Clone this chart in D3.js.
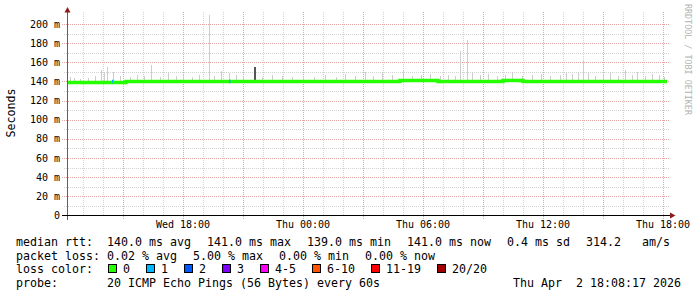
<!DOCTYPE html>
<html>
<head>
<meta charset="utf-8">
<script src="https://cdn.jsdelivr.net/npm/d3@7"></script>
<style>
  body { margin: 0; background: #fff; }
  text { font-family: "DejaVu Sans Mono", monospace; }
</style>
</head>
<body>
<div id="chart"></div>
<script>
// SMOKEPING LATENCY GRAPH (30 HOURS)

// median rtt steps [time, ms]
const medianSteps = [
  ["2026-04-01T12:12", 139],
  ["2026-04-01T15:09", 140],
  ["2026-04-02T04:51", 141],
  ["2026-04-02T06:45", 140],
  ["2026-04-02T10:00", 141],
  ["2026-04-02T11:00", 140],
  ["2026-04-02T18:12", 140]
];

// samples where some pings were lost [time, lost]
const lossSamples = [
  ["2026-04-01T14:27", 1],
  ["2026-04-01T20:18", 1]
];

// smoke: highest ping of a sample [time, ms]
const smokeTops = [
  ["2026-04-01T12:21", 145], ["2026-04-01T12:33", 144], ["2026-04-01T12:51", 143],
  ["2026-04-01T13:15", 144], ["2026-04-01T13:36", 146], ["2026-04-01T13:54", 152],
  ["2026-04-01T14:03", 150], ["2026-04-01T14:12", 155], ["2026-04-01T14:30", 150],
  ["2026-04-01T14:51", 146], ["2026-04-01T15:21", 145], ["2026-04-01T15:42", 147],
  ["2026-04-01T16:03", 146], ["2026-04-01T16:24", 157], ["2026-04-01T16:51", 145],
  ["2026-04-01T17:15", 150], ["2026-04-01T17:39", 146], ["2026-04-01T18:00", 147],
  ["2026-04-01T18:27", 145], ["2026-04-01T18:48", 147], ["2026-04-01T19:18", 209],
  ["2026-04-01T19:33", 146], ["2026-04-01T19:54", 151], ["2026-04-01T20:18", 149],
  ["2026-04-01T20:39", 147], ["2026-04-01T21:00", 146], ["2026-04-01T21:57", 145],
  ["2026-04-01T22:27", 147], ["2026-04-01T22:57", 146], ["2026-04-01T23:27", 145],
  ["2026-04-02T00:00", 146], ["2026-04-02T00:33", 145], ["2026-04-02T01:06", 147],
  ["2026-04-02T01:39", 145], ["2026-04-02T02:06", 148], ["2026-04-02T02:36", 146],
  ["2026-04-02T03:06", 150], ["2026-04-02T03:30", 146], ["2026-04-02T03:57", 149],
  ["2026-04-02T04:27", 147], ["2026-04-02T05:00", 152], ["2026-04-02T05:27", 146],
  ["2026-04-02T05:54", 147], ["2026-04-02T06:21", 148], ["2026-04-02T06:51", 146],
  ["2026-04-02T07:15", 147], ["2026-04-02T07:36", 146], ["2026-04-02T07:51", 172],
  ["2026-04-02T08:12", 183], ["2026-04-02T08:27", 150], ["2026-04-02T08:51", 147],
  ["2026-04-02T09:15", 148], ["2026-04-02T09:42", 146], ["2026-04-02T10:06", 147],
  ["2026-04-02T10:27", 150], ["2026-04-02T10:57", 146], ["2026-04-02T11:27", 147],
  ["2026-04-02T11:54", 148], ["2026-04-02T12:21", 146], ["2026-04-02T12:51", 147],
  ["2026-04-02T13:09", 149], ["2026-04-02T13:27", 148], ["2026-04-02T13:45", 150],
  ["2026-04-02T14:00", 162], ["2026-04-02T14:15", 150], ["2026-04-02T14:36", 146],
  ["2026-04-02T15:00", 148], ["2026-04-02T15:21", 150], ["2026-04-02T15:45", 146],
  ["2026-04-02T16:06", 152], ["2026-04-02T16:27", 147], ["2026-04-02T16:42", 150],
  ["2026-04-02T17:06", 146], ["2026-04-02T17:27", 148], ["2026-04-02T17:48", 147],
  ["2026-04-02T18:03", 145]
];
// dense smoke (most pings high)
const darkSmokeTops = [
  ["2026-04-01T21:33", 155]
];

const yTicks = [0, 20, 40, 60, 80, 100, 120, 140, 160, 180, 200];

const lossLabels = ["0", "1", "2", "3", "4-5", "6-10", "11-19", "20/20"];
const lossColors = ["#26ff00", "#00b8ff", "#0059ff", "#7e00ff", "#ff00ff", "#ff5500", "#ff0000", "#a10000"];

const rttStats = ["140.0 ms avg", "141.0 ms max", "139.0 ms min", "141.0 ms now", "0.4 ms sd", "314.2   am/s"];
const lossStats = ["0.02 % avg", "5.00 % max", "0.00 % min", "0.00 % now"];
const probeText = "20 ICMP Echo Pings (56 Bytes) every 60s";
const stampText = "Thu Apr  2 18:08:17 2026";

var width = 697;
var height = 297;

var parse = d3.utcParse("%Y-%m-%dT%H:%M");

var svg = d3.select("#chart").append("svg")
    .attr("width", width)
    .attr("height", height);

svg.append("rect")
  .attr("width", width)
  .attr("height", height)
  .attr("fill", "white");

var x = d3.scaleUtc()
    .domain([parse("2026-04-01T12:12"), parse("2026-04-02T18:12")])
    .range([67, 667]);

var y = d3.scaleLinear()
    .domain([0, 200])
    .range([215.5, 24]);

var grid = svg.append("g").attr("shape-rendering", "crispEdges");

// horizontal grid, 10 ms minor / 20 ms major
d3.range(10, 201, 10).forEach(function(v) {
  var major = v % 20 === 0;
  grid.append("line")
    .attr("x1", major ? 62 : 64).attr("x2", 669)
    .attr("y1", Math.round(y(v)) + 0.5).attr("y2", Math.round(y(v)) + 0.5)
    .attr("stroke", major ? "#e3a4a4" : "#d2d2d2")
    .attr("stroke-dasharray", "1,1");
});

// vertical grid, 1 h minor / 3 h major
x.ticks(d3.utcHour.every(1)).forEach(function(t) {
  var major = t.getUTCHours() % 3 === 0;
  var px = Math.round(x(t)) + 0.5;
  grid.append("line")
    .attr("x1", px).attr("x2", px)
    .attr("y1", 12).attr("y2", major ? 219 : 215)
    .attr("stroke", major ? "#e3a4a4" : "#d2d2d2")
    .attr("stroke-dasharray", "1,1");
});

// smoke
var smoke = svg.append("g").attr("shape-rendering", "crispEdges");
smoke.selectAll(".smoke")
  .data(smokeTops).enter()
  .append("rect")
    .attr("class", "smoke")
    .attr("x", function(d) { return Math.round(x(parse(d[0]))); })
    .attr("width", 1)
    .attr("y", function(d) { return y(d[1]); })
    .attr("height", function(d) { return y(139) - y(d[1]); })
    .attr("fill", "#cdcdcd");

smoke.selectAll(".darksmoke")
  .data(darkSmokeTops).enter()
  .append("rect")
    .attr("class", "darksmoke")
    .attr("x", function(d) { return Math.round(x(parse(d[0]))); })
    .attr("width", 1.5)
    .attr("y", function(d) { return y(d[1]); })
    .attr("height", function(d) { return y(139) - y(d[1]); })
    .attr("fill", "#555");

// median line
var line = d3.line()
    .curve(d3.curveStepAfter)
    .x(function(d) { return x(parse(d[0])); })
    .y(function(d) { return y(d[1]); });

svg.append("path")
  .datum(medianSteps)
  .attr("d", line)
  .attr("fill", "none")
  .attr("stroke", lossColors[0])
  .attr("stroke-width", 3.5);

svg.selectAll(".loss")
  .data(lossSamples).enter()
  .append("rect")
    .attr("class", "loss")
    .attr("x", function(d) { return Math.round(x(parse(d[0]))); })
    .attr("width", 1.5)
    .attr("y", y(140) - 1.75)
    .attr("height", 3.5)
    .attr("fill", function(d) { return lossColors[d[1]]; });

// axes
svg.append("line")
  .attr("x1", 67.5).attr("x2", 67.5).attr("y1", 11).attr("y2", 220)
  .attr("stroke", "#606060").attr("shape-rendering", "crispEdges");
svg.append("line")
  .attr("x1", 62).attr("x2", 671).attr("y1", 215.5).attr("y2", 215.5)
  .attr("stroke", "#000").attr("shape-rendering", "crispEdges");
svg.append("path")
  .attr("d", "M64.5,12.5 L67.5,7 L70.5,12.5 Z")
  .attr("fill", "#8b1a1a");
svg.append("path")
  .attr("d", "M670,212.5 L675.5,215.5 L670,218.5 Z")
  .attr("fill", "#8b1a1a");

// y labels
svg.selectAll(".ylab")
  .data(yTicks).enter()
  .append("text")
    .attr("class", "ylab")
    .attr("x", 60)
    .attr("y", function(d) { return y(d) + 3.5; })
    .attr("text-anchor", "end")
    .attr("font-size", "10px")
    .attr("fill", "#000")
    .text(function(d) { return d === 0 ? "0" : d + " m"; });

// x labels
var fmt = d3.utcFormat("%a %H:%M");
svg.selectAll(".xlab")
  .data(x.ticks(d3.utcHour.every(6))).enter()
  .append("text")
    .attr("class", "xlab")
    .attr("x", function(d) { return x(d); })
    .attr("y", 228)
    .attr("text-anchor", "middle")
    .attr("font-size", "10px")
    .attr("fill", "#000")
    .text(fmt);

svg.append("text")
  .attr("transform", "translate(15,113) rotate(-90)")
  .attr("text-anchor", "middle")
  .attr("font-size", "11.6px")
  .text("Seconds");

svg.append("text")
  .attr("transform", "translate(684.5,4) rotate(90)")
  .attr("font-size", "8.4px")
  .attr("fill", "#b4b4b4")
  .text("RRDTOOL / TOBI OETIKER");

// legend
var cw = 7, gap = 16, col = 107, fs = "11.63px";

function row(label, items, base) {
  svg.append("text").attr("x", 16).attr("y", base).attr("font-size", fs)
    .text(label);
  var cx = col;
  items.forEach(function(s) {
    svg.append("text").attr("x", cx).attr("y", base).attr("font-size", fs)
      .attr("xml:space", "preserve")
      .text(s);
    cx += s.length * cw + gap;
  });
}

row("median rtt:", rttStats, 246);
row("packet loss:", lossStats, 259.5);

svg.append("text").attr("x", 16).attr("y", 273).attr("font-size", fs).text("loss color:");
var lx = col + 1;
lossLabels.forEach(function(l, i) {
  svg.append("rect")
    .attr("x", lx + 0.5).attr("y", 264.5)
    .attr("width", 8).attr("height", 8)
    .attr("fill", lossColors[i])
    .attr("stroke", "#000")
    .attr("shape-rendering", "crispEdges");
  svg.append("text").attr("x", lx + 15).attr("y", 273).attr("font-size", fs).text(l);
  lx += 15 + l.length * cw + gap;
});

svg.append("text").attr("x", 16).attr("y", 286.5).attr("font-size", fs).text("probe:");
svg.append("text").attr("x", col).attr("y", 286.5).attr("font-size", fs).text(probeText);
svg.append("text").attr("x", 513).attr("y", 286.5).attr("font-size", fs)
  .attr("xml:space", "preserve").text(stampText);
</script>
</body>
</html>
